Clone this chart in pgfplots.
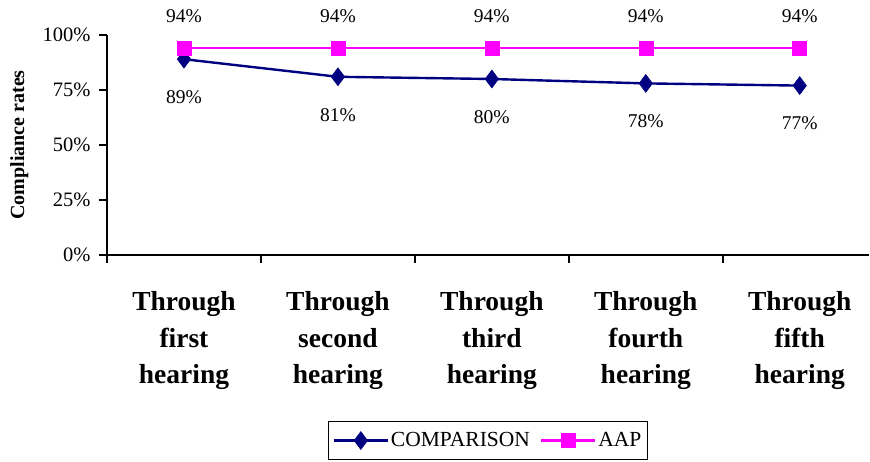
\documentclass[border=0pt]{standalone}
\usepackage{pgfplots}
\pgfplotsset{compat=1.18}
\usepackage{fontspec}
\setmainfont{Liberation Serif}
\definecolor{navyc}{RGB}{0,0,128}
\definecolor{magc}{RGB}{255,0,255}
\begin{document}
\begin{tikzpicture}[x=1pt,y=1pt]
\useasboundingbox (-107,-207) rectangle (763,255);
\begin{axis}[
  at={(0,0)}, anchor=south west,
  scale only axis,
  width=762pt, height=220pt,
  xmin=-0.5, xmax=4.45,
  ymin=0, ymax=100,
  clip=false,
  axis lines=left,
  axis line style={-, line width=1.6pt, black},
  /pgf/number format/assume math mode=true,
  ytick={0,25,50,75,100},
  yticklabel={\pgfmathprintnumber{\tick}\%},
  yticklabel style={font=\fontsize{20.5}{22}\selectfont, xshift=-5pt},
  every tick/.style={draw=black, line width=1.6pt},
  tick align=outside,
  major tick length=8pt,
  xtick={-0.5,0.5,1.5,2.5,3.5},
  xticklabels={},
  extra x ticks={0,1,2,3,4},
  extra x tick labels={{Through\\first\\hearing},{Through\\second\\hearing},{Through\\third\\hearing},{Through\\fourth\\hearing},{Through\\fifth\\hearing}},
  extra x tick style={major tick length=0pt,
    xticklabel style={font=\bfseries\fontsize{27.5}{36.5}\selectfont, align=center, yshift=-33pt}},
  ylabel={\bfseries Compliance rates},
  ylabel style={font=\bfseries\fontsize{20}{24}\selectfont, at={(axis description cs:0,0.5)}, anchor=south, yshift=75pt},
  legend style={at={(0.5,-0.7545)}, anchor=north, legend columns=2, draw=black, line width=1.4pt,
    font=\fontsize{21.5}{26}\selectfont, inner xsep=4pt, inner ysep=9pt,
    /tikz/every even column/.append style={column sep=8pt}},
  legend image code/.code={\draw[mark repeat=2,mark phase=2] plot coordinates {(0pt,0pt) (27pt,0pt) (54pt,0pt)};},
  nodes near coords={\pgfmathprintnumber{\pgfplotspointmeta}\%},
  every node near coord/.append style={font=\fontsize{19.5}{22}\selectfont, anchor=center, black},
]
\addplot[color=navyc, line width=2.4pt, mark=diamond*, mark size=9pt, mark options={line width=0.5pt},
  every node near coord/.append style={yshift=-38pt}]
  coordinates {(0,89) (1,81) (2,80) (3,78) (4,77)};
\addlegendentry{COMPARISON}
\addplot[color=magc, line width=2.4pt, mark=square*, mark size=7pt, mark options={line width=0.5pt},
  every node near coord/.append style={yshift=32pt}]
  coordinates {(0,94) (1,94) (2,94) (3,94) (4,94)};
\addlegendentry{AAP}
\end{axis}
\end{tikzpicture}
\end{document}
